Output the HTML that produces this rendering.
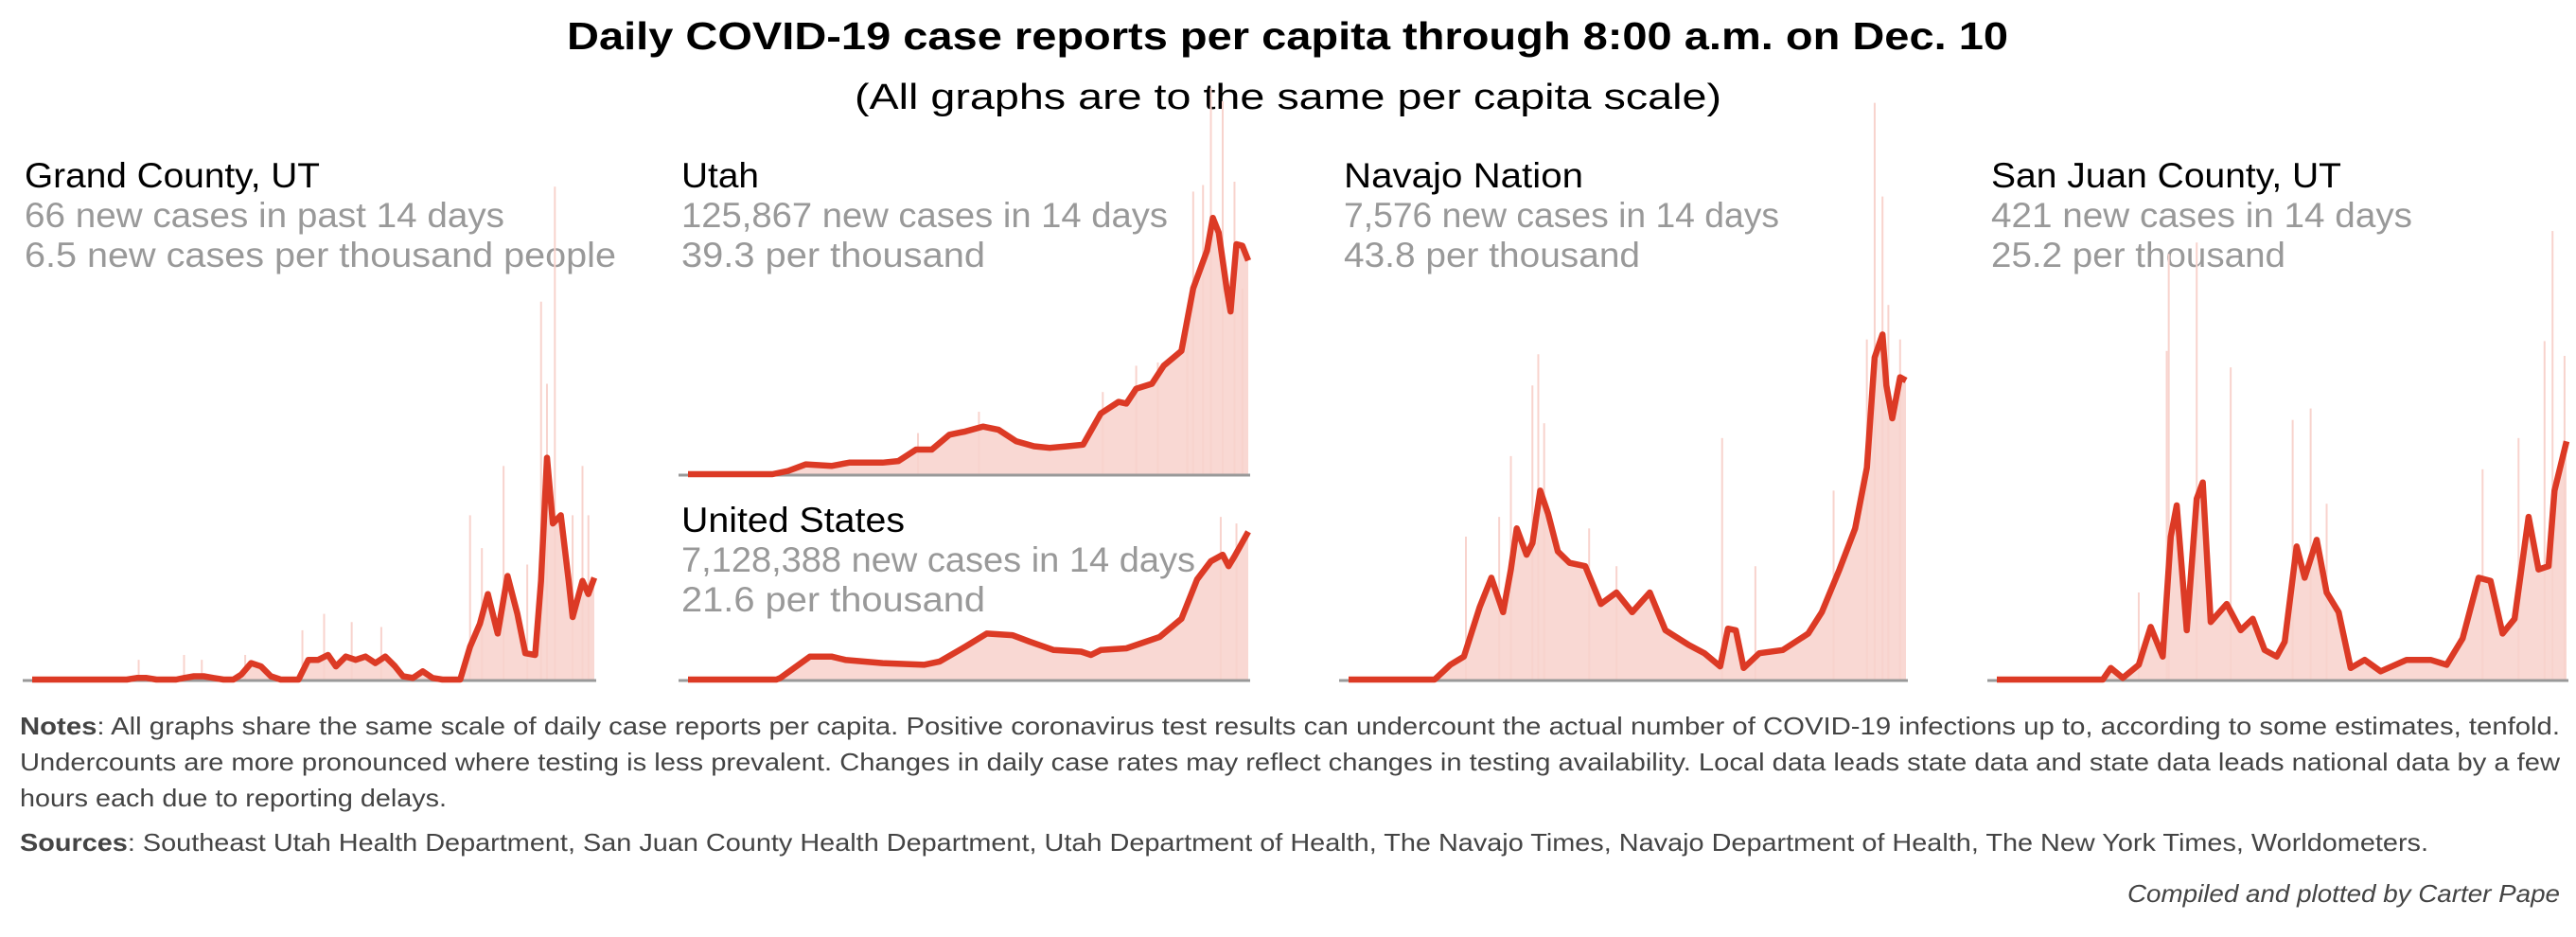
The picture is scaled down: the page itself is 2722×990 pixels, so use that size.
<!DOCTYPE html>
<html><head><meta charset="utf-8"><style>
html,body{margin:0;padding:0;background:#fff;}
svg{display:block;}
text{font-family:"Liberation Sans",sans-serif;}
</style></head><body>
<svg id="chart" width="2722" height="990" viewBox="0 0 2722 990" xmlns="http://www.w3.org/2000/svg">
<text x="599" y="52" font-size="41" font-weight="bold" textLength="1523" lengthAdjust="spacingAndGlyphs" fill="#000">Daily COVID-19 case reports per capita through 8:00 a.m. on Dec. 10</text>
<text x="903" y="115" font-size="38" textLength="916" lengthAdjust="spacingAndGlyphs" fill="#000">(All graphs are to the same per capita scale)</text>

<g>
<text x="26" y="198" font-size="37" fill="#000" textLength="312" lengthAdjust="spacingAndGlyphs">Grand County, UT</text>
<text x="26" y="240" font-size="37" fill="#999" textLength="507" lengthAdjust="spacingAndGlyphs">66 new cases in past 14 days</text>
<text x="26" y="282" font-size="37" fill="#999" textLength="625" lengthAdjust="spacingAndGlyphs">6.5 new cases per thousand people</text>
</g>
<g>
<text x="720" y="198" font-size="37" fill="#000" textLength="82" lengthAdjust="spacingAndGlyphs">Utah</text>
<text x="720" y="240" font-size="37" fill="#999" textLength="514" lengthAdjust="spacingAndGlyphs">125,867 new cases in 14 days</text>
<text x="720" y="282" font-size="37" fill="#999" textLength="321" lengthAdjust="spacingAndGlyphs">39.3 per thousand</text>
</g>
<g>
<text x="720" y="562" font-size="37" fill="#000" textLength="236" lengthAdjust="spacingAndGlyphs">United States</text>
<text x="720" y="604" font-size="37" fill="#999" textLength="543" lengthAdjust="spacingAndGlyphs">7,128,388 new cases in 14 days</text>
<text x="720" y="646" font-size="37" fill="#999" textLength="321" lengthAdjust="spacingAndGlyphs">21.6 per thousand</text>
</g>
<g>
<text x="1420" y="198" font-size="37" fill="#000" textLength="253" lengthAdjust="spacingAndGlyphs">Navajo Nation</text>
<text x="1420" y="240" font-size="37" fill="#999" textLength="460" lengthAdjust="spacingAndGlyphs">7,576 new cases in 14 days</text>
<text x="1420" y="282" font-size="37" fill="#999" textLength="313" lengthAdjust="spacingAndGlyphs">43.8 per thousand</text>
</g>
<g>
<text x="2104" y="198" font-size="37" fill="#000" textLength="370" lengthAdjust="spacingAndGlyphs">San Juan County, UT</text>
<text x="2104" y="240" font-size="37" fill="#999" textLength="445" lengthAdjust="spacingAndGlyphs">421 new cases in 14 days</text>
<text x="2104" y="282" font-size="37" fill="#999" textLength="311" lengthAdjust="spacingAndGlyphs">25.2 per thousand</text>
</g>

<g id="plots"></g>

<g fill="#444" font-size="26">
<text x="21" y="776" textLength="2684" lengthAdjust="spacingAndGlyphs"><tspan font-weight="bold">Notes</tspan>: All graphs share the same scale of daily case reports per capita. Positive coronavirus test results can undercount the actual number of COVID-19 infections up to, according to some estimates, tenfold.</text>
<text x="21" y="814" textLength="2684" lengthAdjust="spacingAndGlyphs">Undercounts are more pronounced where testing is less prevalent. Changes in daily case rates may reflect changes in testing availability. Local data leads state data and state data leads national data by a few</text>
<text x="21" y="852" textLength="451" lengthAdjust="spacingAndGlyphs">hours each due to reporting delays.</text>
<text x="21" y="899" textLength="2545" lengthAdjust="spacingAndGlyphs"><tspan font-weight="bold">Sources</tspan>: Southeast Utah Health Department, San Juan County Health Department, Utah Department of Health, The Navajo Times, Navajo Department of Health, The New York Times, Worldometers.</text>
<text x="2248" y="953" font-style="italic" textLength="457" lengthAdjust="spacingAndGlyphs">Compiled and plotted by Carter Pape</text>
</g>
</svg>
<script>
const grandDays=[0,48,53,58,63,73,77,82,87,92,97,102,106,111,116,121,126,135,140,145,150,154,159,164,169,174,179,184,188,193,198,203,208,217,222,227,231,236,241,246,250,255,258,261,264,268,272,274,279,282,285];
const grandVals=[0,0,1,1,0,0,1,2,2,1,0,0,3,10,8,2,0,0,12,12,15,8,14,12,14,10,14,8,2,1,5,1,0,0,20,34,52,28,63,40,16,15,60,135,95,100,60,38,60,52,62];
const grandSpikeDays=[54,77,86,108,137,148,162,177,222,228,239,251,258,261,265,274,279,282];
const grandSpikeVals=[12,15,12,15,30,40,35,32,100,80,130,70,230,180,300,100,130,100];

const utahDays=[0,43,51,60,73,82,99,107,116,124,133,141,150,158,167,176,184,193,201,210,219,223,228,236,242,251,257,264,267,270,274,276,279,282,285];
const utahVals=[0,0,2,6,5,7,7,8,15,15,24,26,29,27,20,17,16,17,18,37,44,43,52,55,66,75,113,136,156,147,113,99,140,139,130];
const utahSpikeDays=[117,148,211,228,239,254,257,262,266,272,278,282];
const utahSpikeVals=[25,38,50,66,68,86,172,176,235,227,178,113];

const usDays=[0,45,47,62,73,80,99,120,128,141,152,165,174,186,200,205,210,223,240,251,259,266,272,275,278,285];
const usVals=[0,0,1,14,14,12,10,9,11,20,28,27,23,18,17,15,18,19,26,37,61,72,76,69,75,90];
const usSpikeDays=[271,279];
const usSpikeVals=[99,95];

const navDays=[0,44,52,59,67,73,79,83,86,91,94,98,102,107,113,121,129,137,145,154,162,174,182,190,194,198,202,210,222,235,242,251,259,265,269,273,275,278,282,285];
const navVals=[0,0,9,14,44,62,41,67,92,76,83,115,101,78,71,69,46,53,41,53,30,21,16,8,31,30,7,16,18,28,41,67,92,129,196,210,179,159,184,182];
const navSpikeDays=[60,77,83,94,97,100,123,137,191,208,248,265,269,273,276,282];
const navSpikeVals=[87,99,136,179,198,156,92,69,147,69,115,207,351,294,228,207];

const sjDays=[0,53,57,63,71,77,83,87,90,95,100,103,107,115,122,128,134,140,144,150,154,160,165,171,177,184,192,205,217,225,233,241,247,253,259,266,271,276,279,285];
const sjVals=[0,0,7,1,9,32,14,87,106,30,110,120,35,46,30,37,18,14,23,81,62,85,53,41,7,12,5,12,12,9,25,62,60,28,37,99,67,69,115,145];
const sjSpikeDays=[71,85,86,100,117,148,157,165,243,261,274,278,284];
const sjSpikeVals=[53,200,259,266,190,158,165,107,128,147,206,273,197];

const NS="http://www.w3.org/2000/svg";
const K=1.736, DMAX=285;
const plots=document.getElementById('plots');
function panel(name,x0,x1,base,days,vals,sd,sv){
  const g=document.createElementNS(NS,'g');
  
  
  plots.appendChild(g);
  const xs=d=>x0+d/DMAX*(x1-x0);
  const ys=v=>base-v*K;
  let pts=days.map((d,i)=>xs(d).toFixed(1)+','+ys(vals[i]).toFixed(1));
  const area=document.createElementNS(NS,'polygon');
  area.setAttribute('points',xs(days[0])+','+base+' '+pts.join(' ')+' '+xs(days[days.length-1])+','+base);
  area.setAttribute('fill','#f9d8d3');
  
  
  g.appendChild(area);
  sd.forEach((d,i)=>{
    const r=document.createElementNS(NS,'rect');
    r.setAttribute('x',xs(d)-1);r.setAttribute('width',2);
    r.setAttribute('y',ys(sv[i]));r.setAttribute('height',sv[i]*K);
    r.setAttribute('fill','#f8d3cd');
    
    
    g.appendChild(r);
  });
  const ax=document.createElementNS(NS,'line');
  ax.setAttribute('x1',x0-10);ax.setAttribute('x2',x1+2);ax.setAttribute('y1',base+1);ax.setAttribute('y2',base+1);
  ax.setAttribute('stroke','#999');ax.setAttribute('stroke-width',3);
  
  
  g.appendChild(ax);
  const ln=document.createElementNS(NS,'polyline');
  ln.setAttribute('points',pts.join(' '));
  ln.setAttribute('fill','none');ln.setAttribute('stroke','#dc3a25');ln.setAttribute('stroke-width',6.5);
  ln.setAttribute('stroke-linejoin','round');
  
  
  g.appendChild(ln);
}
panel('grand',34,628,718,grandDays,grandVals,grandSpikeDays,grandSpikeVals);
panel('utah',727,1319,501,utahDays,utahVals,utahSpikeDays,utahSpikeVals);
panel('us',727,1319,718,usDays,usVals,usSpikeDays,usSpikeVals);
panel('navajo',1425,2014,718,navDays,navVals,navSpikeDays,navSpikeVals);
panel('sanjuan',2110,2712,718,sjDays,sjVals,sjSpikeDays,sjSpikeVals);
</script>
</body></html>
